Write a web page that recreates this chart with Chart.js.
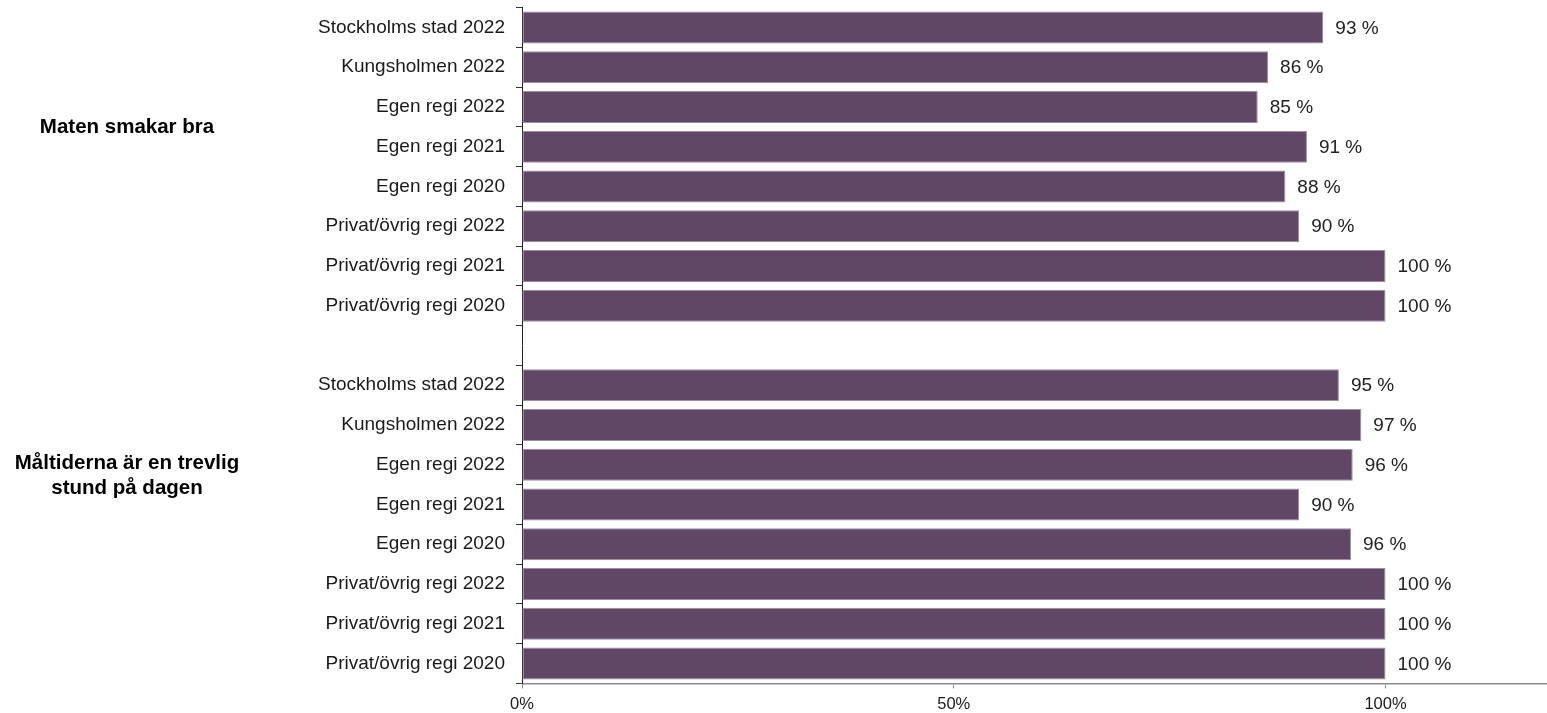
<!DOCTYPE html>
<html><head><meta charset="utf-8">
<script src="https://cdn.jsdelivr.net/npm/chart.js@4/dist/chart.umd.min.js"></script>
<style>html,body{margin:0;padding:0;background:#fff;overflow:hidden}#wrap{width:1547px;height:713px;position:relative}</style>
</head><body><div id="wrap"><canvas id="c" width="1547" height="713"></canvas></div>
<script>
const categories = [
  "Stockholms stad 2022","Kungsholmen 2022","Egen regi 2022","Egen regi 2021","Egen regi 2020",
  "Privat/övrig regi 2022","Privat/övrig regi 2021","Privat/övrig regi 2020",
  "",
  "Stockholms stad 2022","Kungsholmen 2022","Egen regi 2022","Egen regi 2021","Egen regi 2020",
  "Privat/övrig regi 2022","Privat/övrig regi 2021","Privat/övrig regi 2020"
];
const values = [
  92.8, 86.4, 85.2, 90.9, 88.4, 90.0, 100, 100,
  null,
  94.6, 97.2, 96.2, 90.0, 96.0, 100, 100, 100
];
const groupLabels = [["Maten smakar bra"], ["Måltiderna är en trevlig", "stund på dagen"]];
const xTicks = [0, 50, 100];

const FONT = "'Liberation Sans', Arial, sans-serif";

const dataLabelPlugin = {
  id: 'dataLabels',
  afterDatasetsDraw(chart) {
    const ctx = chart.ctx;
    const meta = chart.getDatasetMeta(0);
    ctx.save();
    ctx.font = "19px " + FONT;
    ctx.fillStyle = '#222';
    ctx.textAlign = 'left';
    ctx.textBaseline = 'middle';
    meta.data.forEach((el, i) => {
      const v = values[i];
      if (v == null) return;
      ctx.fillText(Math.round(v) + ' %', el.x + 12, el.y + 1);
    });
    ctx.restore();
  }
};

const groupLabelPlugin = {
  id: 'groupLabels',
  afterDraw(chart, args, opts) {
    const ctx = chart.ctx;
    const ys = chart.scales.y;
    ctx.save();
    ctx.font = "bold 20.5px " + FONT;
    ctx.fillStyle = '#000';
    ctx.textAlign = 'center';
    ctx.textBaseline = 'middle';
    groupLabels.forEach((lines, g) => {
      const cy = ys.getPixelForValue(opts.centers[g]);
      const lh = 25;
      const start = cy - (lines.length - 1) * lh / 2;
      lines.forEach((t, k) => ctx.fillText(t, opts.x, start + k * lh));
    });
    ctx.restore();
  }
};

new Chart(document.getElementById('c'), {
  type: 'bar',
  data: {
    labels: categories,
    datasets: [{
      data: values,
      backgroundColor: '#614766',
      borderColor: '#a08ca4',
      borderWidth: 1,
      borderSkipped: false,
      categoryPercentage: 1,
      barPercentage: 0.8
    }]
  },
  options: {
    indexAxis: 'y',
    responsive: false,
    devicePixelRatio: 1,
    animation: false,
    layout: { padding: { top: 7.6, left: 0, right: 0, bottom: 0 } },
    plugins: {
      legend: { display: false },
      tooltip: { enabled: false },
      groupLabels: { x: 127, centers: [2.5, 11.27] }
    },
    scales: {
      x: {
        min: 0,
        max: 118.7,
        afterBuildTicks(axis) { axis.ticks = xTicks.map(v => ({ value: v })); },
        afterFit(scale) { scale.height = 29.6; scale.paddingLeft = 0; scale.paddingRight = 0; },
        ticks: {
          callback: v => v + '%',
          font: { size: 16.5, family: FONT },
          color: '#1a1a1a',
          padding: 6,
          maxRotation: 0
        },
        grid: { drawOnChartArea: false, drawTicks: true, tickLength: 5, color: '#888' },
        border: { color: '#888', width: 1.5 }
      },
      y: {
        type: 'category',
        offset: true,
        afterFit(scale) { scale.width = 522; scale.paddingTop = 0; scale.paddingBottom = 0; },
        ticks: {
          font: { size: 19, family: FONT },
          color: '#1a1a1a',
          padding: 11,
          autoSkip: false
        },
        grid: { offset: true, drawOnChartArea: false, drawTicks: true, tickLength: 6, color: '#333' },
        border: { color: '#222', width: 1 }
      }
    }
  },
  plugins: [dataLabelPlugin, groupLabelPlugin]
});
</script>
</body></html>
